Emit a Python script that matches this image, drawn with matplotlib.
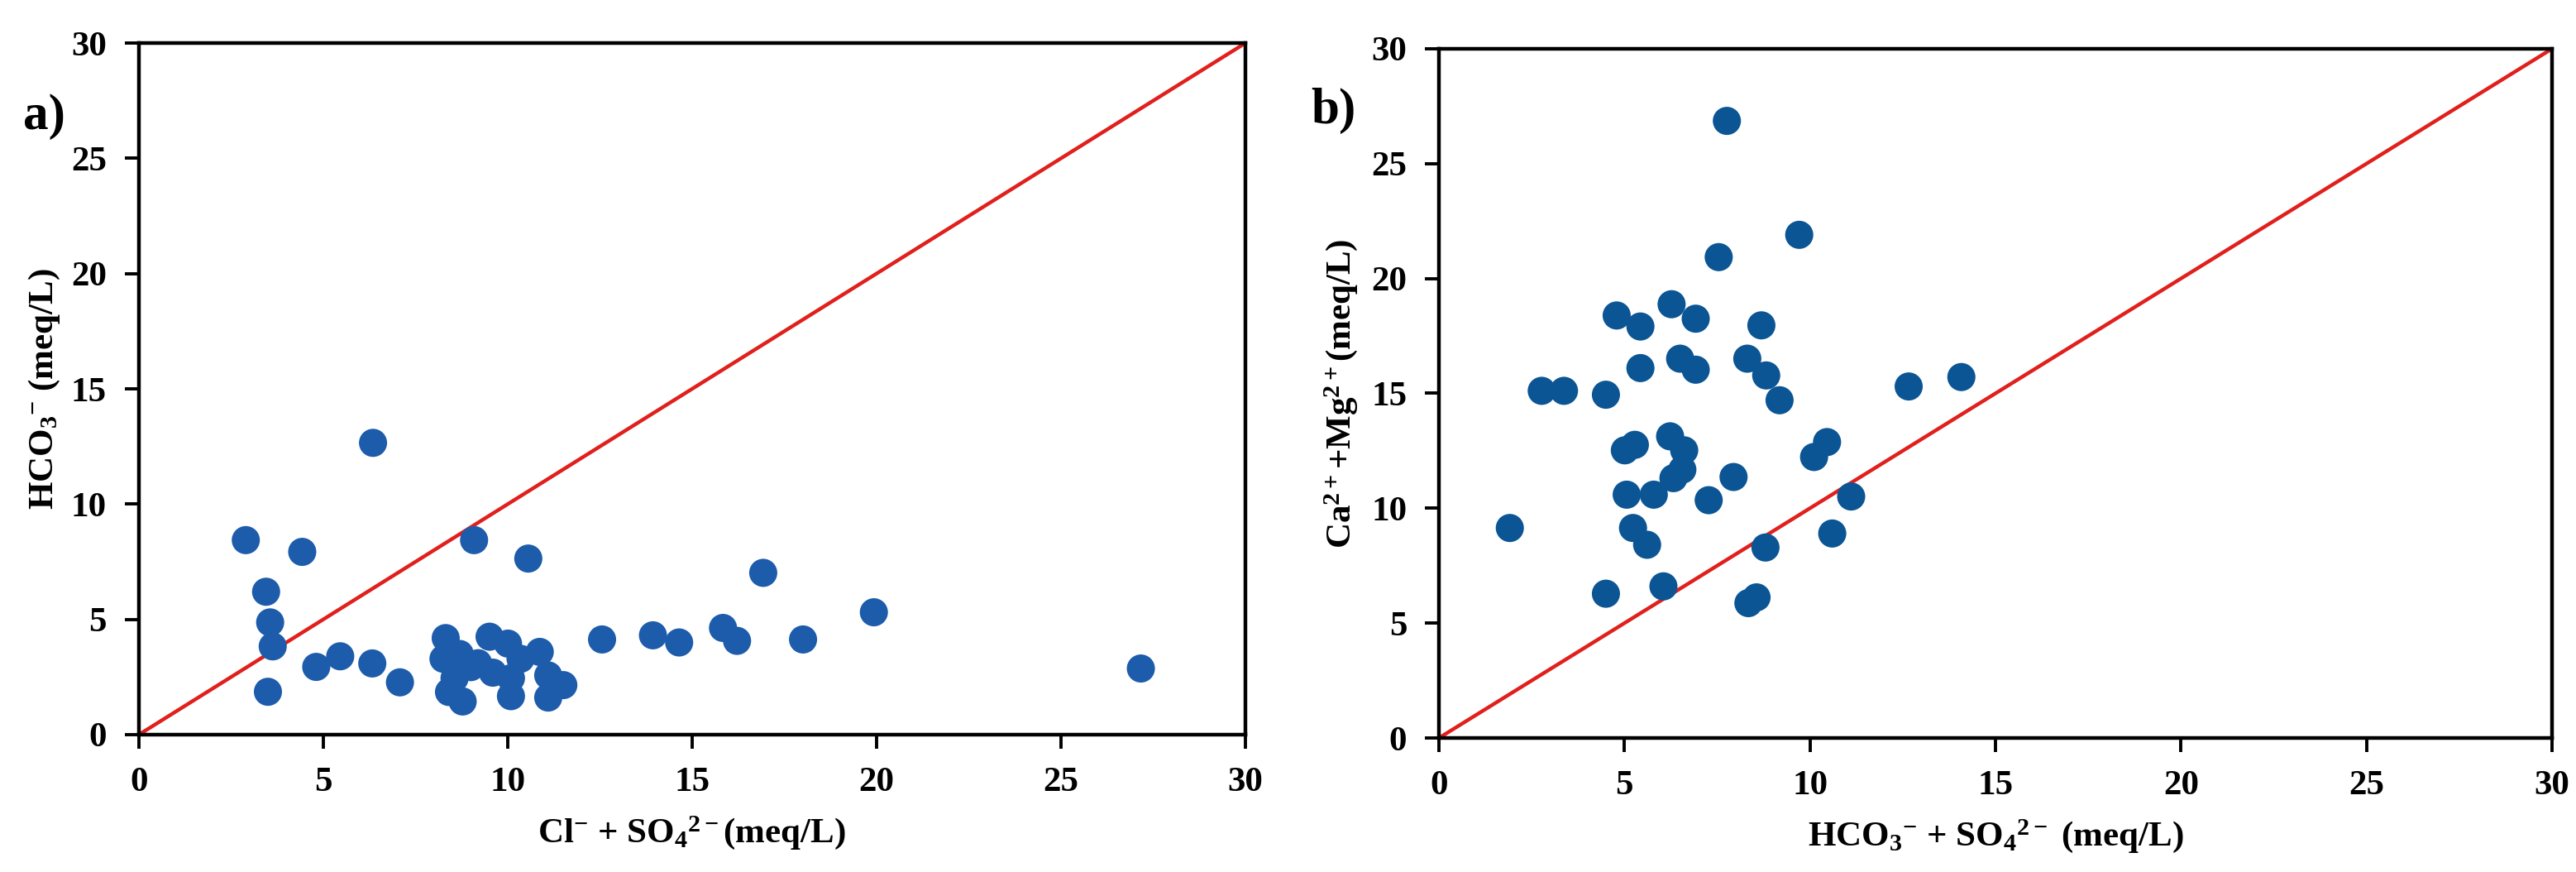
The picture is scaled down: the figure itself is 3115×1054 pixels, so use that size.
import numpy as np
import matplotlib
matplotlib.use('Agg')
import matplotlib.pyplot as plt

# panel a: Cl- + SO4 2- vs HCO3-
a_x = [6.35, 2.9, 4.43, 9.09, 10.56, 16.93, 19.93, 3.45, 3.56, 3.63, 3.5, 4.81,
       5.46, 6.33, 7.08, 12.56, 13.94, 14.65, 15.84, 16.22, 18.01, 27.17,
       8.32, 9.51, 10.01, 10.87, 8.26, 9.0, 8.56, 9.6, 10.09, 10.35, 8.41,
       8.78, 10.09, 11.1, 11.51, 11.1, 8.7, 9.2]
a_y = [12.66, 8.44, 7.93, 8.44, 7.64, 7.02, 5.31, 6.2, 4.87, 3.83, 1.86, 2.94,
       3.4, 3.09, 2.27, 4.13, 4.31, 4.0, 4.63, 4.07, 4.13, 2.87,
       4.19, 4.25, 3.95, 3.59, 3.29, 2.93, 2.45, 2.69, 2.45, 3.29, 1.85,
       1.44, 1.67, 2.57, 2.15, 1.61, 3.5, 3.1]

# panel b: HCO3- + SO4 2- vs Ca2+ + Mg2+
b_x = [7.76, 9.71, 7.54, 6.27, 4.79, 5.43, 6.92, 8.69, 6.5, 5.43, 6.92, 8.31,
       8.82, 9.18, 2.77, 3.37, 4.5, 12.66, 14.08, 5.01, 5.28, 6.23, 6.61,
       6.56, 6.32, 7.94, 10.46, 10.11, 5.06, 5.79, 7.27, 11.11, 1.91, 5.23,
       5.61, 8.8, 10.6, 4.5, 6.05, 8.34, 8.56]
b_y = [26.86, 21.9, 20.93, 18.88, 18.39, 17.91, 18.25, 17.96, 16.51, 16.1,
       16.03, 16.51, 15.78, 14.7, 15.11, 15.11, 14.94, 15.3, 15.71, 12.52,
       12.76, 13.13, 12.52, 11.68, 11.31, 11.36, 12.88, 12.23, 10.59, 10.59,
       10.35, 10.51, 9.14, 9.14, 8.41, 8.29, 8.9, 6.28, 6.6, 5.87, 6.12]

ticks = [0, 5, 10, 15, 20, 25, 30]

plt.rcParams['font.family'] = 'Liberation Serif'
plt.rcParams['font.weight'] = 'bold'
plt.rcParams['mathtext.fontset'] = 'custom'
plt.rcParams['mathtext.rm'] = 'Liberation Serif:bold'
plt.rcParams['mathtext.it'] = 'Liberation Serif:bold'
plt.rcParams['mathtext.bf'] = 'Liberation Serif:bold'

fig = plt.figure(figsize=(15.575, 5.27), dpi=200)
ax1 = fig.add_axes([0.0539, 0.1575, 0.4295, 0.793])
ax2 = fig.add_axes([0.5586, 0.1537, 0.4321, 0.7904])


def style(ax, color, xs, ys, xlabel, ylabel, ypad):
    ax.plot([0, 30], [0, 30], color='#e0201c', lw=1.6, zorder=2)
    ax.scatter(xs, ys, s=150, color=color, edgecolors='none', zorder=3)
    ax.set_xlim(0, 30)
    ax.set_ylim(0, 30)
    ax.set_xticks(ticks)
    ax.set_yticks(ticks)
    ax.tick_params(direction='out', length=6, width=1.4, labelsize=15.5, pad=8)
    for s in ax.spines.values():
        s.set_linewidth(1.6)
    ax.set_xlabel(xlabel, fontsize=15.5, fontweight='bold', labelpad=7)
    ax.set_ylabel(ylabel, fontsize=15.5, fontweight='bold', labelpad=ypad)


style(ax1, '#1d5cab', a_x, a_y,
      r'Cl$^{-}$ + SO$_4$$^{2-}$(meq/L)', r'HCO$_3$$^{-}$ (meq/L)', 4)
style(ax2, '#0b5594', b_x, b_y,
      r'HCO$_3$$^{-}$ + SO$_4$$^{2-}$ (meq/L)', r'Ca$^{2+}$+Mg$^{2+}$(meq/L)', 5)

fig.text(0.0173, 0.866, 'a)', fontsize=22, fontweight='bold', ha='center', va='center')
fig.text(0.5175, 0.873, 'b)', fontsize=22, fontweight='bold', ha='center', va='center')

fig.savefig('out.png', dpi=200)
